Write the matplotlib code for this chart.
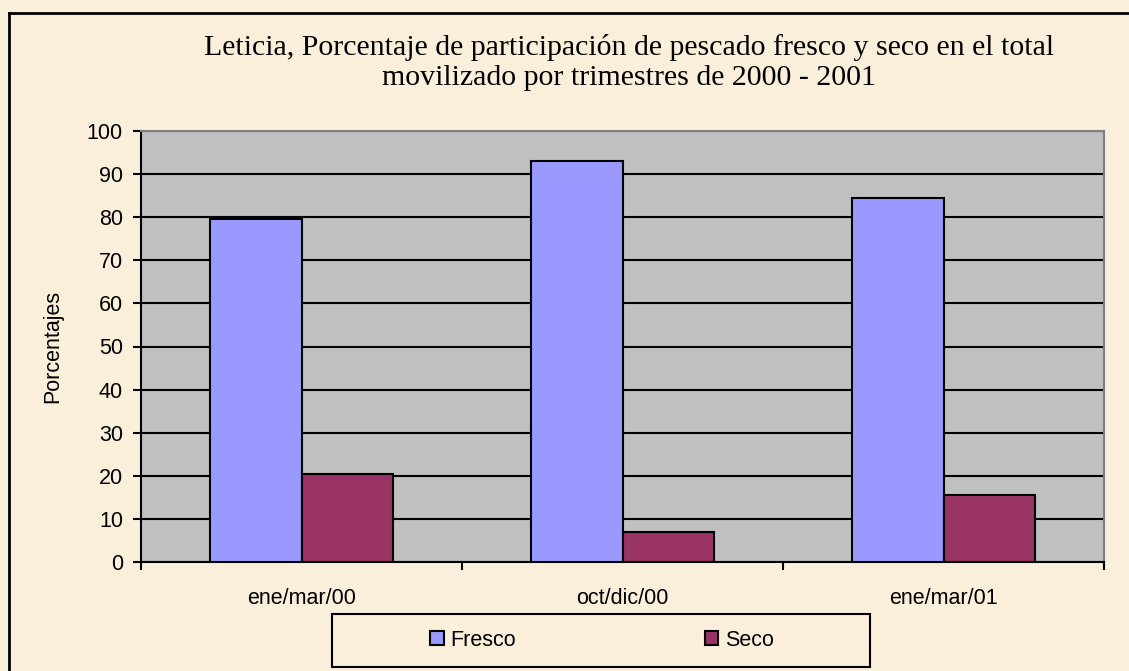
import matplotlib.pyplot as plt
import numpy as np
from matplotlib.patches import Rectangle, Patch
from matplotlib.lines import Line2D

# data
trimestres = ["ene/mar/00", "oct/dic/00", "ene/mar/01"]
fresco = [79.6, 93.0, 84.5]
seco = [20.4, 7.0, 15.5]
series_names = ["Fresco", "Seco"]

BG = "#FAEFDB"
FRESCO_C = "#9999FF"
SECO_C = "#993366"
FS = 15.5

plt.rcParams["font.family"] = ["Liberation Sans", "DejaVu Sans"]

W, H = 1129, 671
fig = plt.figure(figsize=(W / 100, H / 100), dpi=100, facecolor=BG)

# plot area in pixels: left 141, right 1104, top 131, bottom 562
ax = fig.add_axes([141 / W, 1 - 562 / H, (1104 - 141) / W, (562 - 131) / H])
ax.set_facecolor("#C0C0C0")

x = np.arange(len(trimestres))
bw = 1 / 3.5
ax.bar(x - bw / 2, fresco, bw, color=FRESCO_C, edgecolor="black", linewidth=1.5, zorder=3)
ax.bar(x + bw / 2, seco, bw, color=SECO_C, edgecolor="black", linewidth=1.5, zorder=3)

ax.set_xlim(-0.5, len(trimestres) - 0.5)
ax.set_ylim(0, 100)
ax.set_yticks(np.arange(0, 101, 10))
ax.yaxis.grid(True, color="black", linewidth=1.5, zorder=1)
ax.set_axisbelow(True)

ax.set_xticks(x)
ax.set_xticklabels(trimestres)
ax.tick_params(axis="x", which="major", length=0, pad=19, labelsize=FS)
ax.set_xticks(np.arange(-0.5, len(trimestres), 1.0), minor=True)
ax.tick_params(axis="x", which="minor", length=6, width=1.5, direction="out")
ax.tick_params(axis="y", length=6, width=1.5, direction="out", pad=7, labelsize=FS)

for side in ["left", "bottom"]:
    ax.spines[side].set_color("black")
    ax.spines[side].set_linewidth(1.5)
for side in ["top", "right"]:
    ax.spines[side].set_color("#808080")
    ax.spines[side].set_linewidth(1.5)

ax.set_ylabel("Porcentajes", fontsize=FS)
ax.yaxis.set_label_coords((63 - 141) / (1104 - 141), 0.5)

# title
fig.text(629 / W, 1 - 62.5 / H,
         "Leticia, Porcentaje de participación de pescado fresco y seco en el total\n"
         "movilizado por trimestres de 2000 - 2001",
         ha="center", va="center", fontsize=21.5, family="Liberation Serif",
         linespacing=1.18)

# legend box
fig.patches.append(Rectangle((332 / W, 1 - 667 / H), (870 - 332) / W, (667 - 614) / H,
                             transform=fig.transFigure, facecolor="none",
                             edgecolor="black", linewidth=1.5))
handles = [Patch(facecolor=FRESCO_C, edgecolor="black", linewidth=1.5),
           Patch(facecolor=SECO_C, edgecolor="black", linewidth=1.5)]
fig.legend(handles, series_names, ncol=2, frameon=False, fontsize=FS,
           loc="center", bbox_to_anchor=(602 / W, 1 - 640.5 / H),
           handlelength=0.62, handleheight=0.62, handletextpad=0.3,
           columnspacing=8.8, borderpad=0)

# outer chart border
fig.add_artist(Line2D([9 / W, 1], [1 - 13 / H, 1 - 13 / H], transform=fig.transFigure,
                      color="black", linewidth=2))
fig.add_artist(Line2D([9 / W, 9 / W], [0, 1 - 13 / H], transform=fig.transFigure,
                      color="black", linewidth=2))

fig.savefig("out.png", dpi=100, facecolor=BG)
